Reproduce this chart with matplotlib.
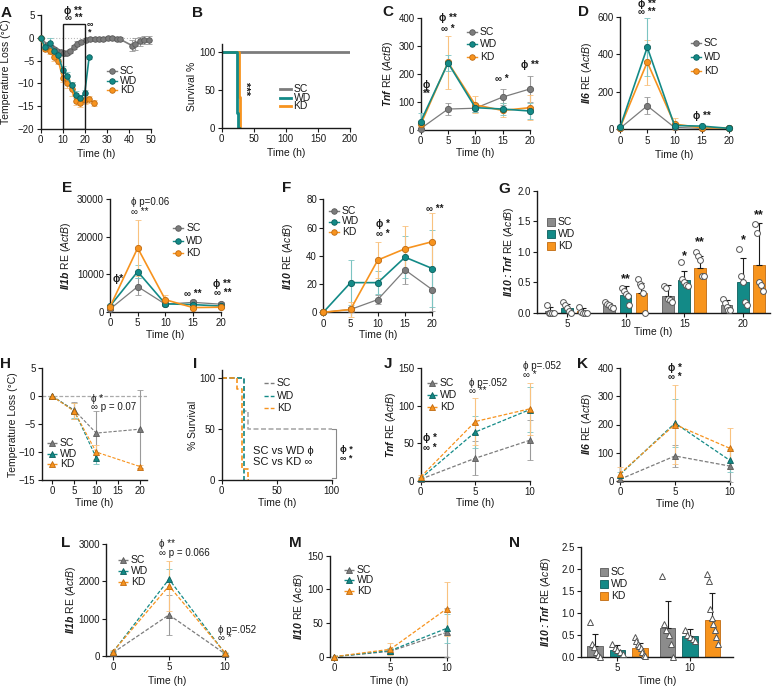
import numpy as np
import matplotlib.pyplot as plt
from matplotlib.lines import Line2D
from matplotlib.patches import Rectangle

plt.rcParams['font.family'] = ['Liberation Sans', 'DejaVu Sans']
plt.rcParams['mathtext.fontset'] = 'custom'
plt.rcParams['mathtext.rm'] = 'Liberation Sans'
plt.rcParams['mathtext.it'] = 'Liberation Sans:italic'
plt.rcParams['mathtext.bf'] = 'Liberation Sans:bold'
plt.rcParams['mathtext.bfit'] = 'Liberation Sans:bold:italic'

# ------------------------------
# 1. Data
# ------------------------------
groups = ['SC', 'WD', 'KD']

# A - temperature loss, first cohort
a_sc_t = [0, 3, 4.5, 6, 7.5, 9, 10.5, 12, 13.5, 15, 16.5, 18.5, 20.5, 22.5, 24.5, 26.5,
          28.5, 30.5, 32.5, 34.5, 36, 41.5, 43, 45, 47, 49]
a_sc = [0, -1.5, -2.0, -2.5, -3.0, -3.2, -3.4, -3.3, -2.9, -2.0, -1.3, -0.9, -0.4, -0.3,
        -0.3, -0.3, -0.2, -0.1, -0.1, -0.3, -0.3, -1.7, -1.3, -0.8, -0.5, -0.5]
a_sc_err = [0, 0.4, 0.5, 0.5, 0.5, 0.5, 0.5, 0.5, 0.5, 0.5, 0.5, 0.5, 0.4, 0.4, 0.4, 0.4,
            0.4, 0.4, 0.4, 0.5, 0.5, 1.2, 1.3, 0.9, 0.8, 0.8]
a_wd_t = [0, 2, 4, 6, 8, 10, 12, 14, 16, 18, 20, 22]
a_wd = [0, -2.0, -1.2, -2.8, -3.8, -7.0, -8.3, -10.4, -12.5, -13.2, -12.2, -4.3]
a_wd_err = [0, 0.5, 1.2, 0.8, 0.8, 0.8, 0.9, 0.8, 0.8, 0.7, 0.8, 0.4]
a_kd_t = [0, 2, 4, 6, 8, 10, 12, 14, 16, 18, 20, 22, 24]
a_kd = [0, -2.5, -2.9, -4.2, -5.0, -8.8, -10.0, -11.3, -13.8, -14.2, -13.7, -13.5, -14.3]
a_kd_err = [0, 0.5, 0.7, 0.8, 0.8, 1.0, 1.0, 1.5, 1.0, 1.0, 0.8, 0.7, 0.6]

# B - survival
b_sc_t, b_sc = [0, 200], [100, 100]
b_wd_t, b_wd = [0, 23.4, 26, 26.5], [100, 20, 0, 0]
b_kd_t, b_kd = [0, 26.5, 28.6, 29], [100, 40, 0, 0]

# C-F - cytokines, first cohort
t20 = [0, 5, 10, 15, 20]
c_sc, c_sc_err = [5, 75, 78, 118, 147], [3, 20, 12, 28, 48]
c_wd, c_wd_err = [30, 240, 80, 75, 68], [30, 28, 15, 20, 28]
c_kd, c_kd_err = [20, 242, 90, 70, 80], [10, 95, 30, 25, 45]

d_sc, d_sc_err = [5, 125, 10, 5, 5], [3, 45, 5, 3, 3]
d_wd, d_wd_err = [10, 437, 20, 17, 5], [5, 155, 10, 6, 3]
d_kd, d_kd_err = [8, 358, 28, 8, 8], [5, 120, 30, 5, 4]

e_sc, e_sc_err = [700, 6700, 2000, 2500, 2000], [300, 2200, 500, 600, 500]
e_wd, e_wd_err = [1500, 10700, 2100, 1900, 1500], [400, 1700, 500, 500, 400]
e_kd, e_kd_err = [1300, 17000, 3200, 1100, 1200], [400, 7500, 1200, 400, 300]

f_sc, f_sc_err = [0, 2, 9, 30, 16], [0, 2, 3, 10, 15]
f_wd, f_wd_err = [0, 21, 21, 39, 31], [0, 16, 8, 15, 27]
f_kd, f_kd_err = [0, 2, 37, 45, 50], [0, 5, 13, 16, 20]

# G - Il10:Tnf ratio
g_times = ['5', '10', '15', '20']
g_sc, g_sc_err = [0.03, 0.12, 0.28, 0.13], [0.06, 0.04, 0.17, 0.08]
g_wd, g_wd_err = [0.08, 0.29, 0.54, 0.51], [0.06, 0.14, 0.15, 0.38]
g_kd, g_kd_err = [0.02, 0.33, 0.74, 0.79], [0.05, 0.15, 0.19, 0.68]
g_sc_pts = [[0.13, 0.0, 0.0, 0.0, 0.0], [0.17, 0.14, 0.12, 0.10, 0.08],
            [0.43, 0.41, 0.22, 0.21, 0.17], [0.23, 0.16, 0.10, 0.05, 0.04]]
g_wd_pts = [[0.18, 0.12, 0.08, 0.02, 0.0], [0.40, 0.36, 0.30, 0.27, 0.12],
            [0.83, 0.56, 0.51, 0.45, 0.44], [1.05, 0.60, 0.50, 0.17, 0.13]]
g_kd_pts = [[0.10, 0.01, 0.0, 0.0, 0.0], [0.55, 0.47, 0.44, 0.33, 0.0],
            [1.00, 0.93, 0.87, 0.60, 0.60], [1.45, 1.30, 0.50, 0.45, 0.35]]

# H - temperature loss, second cohort
h_t = [0, 5, 10, 20]
h_sc, h_sc_err = [0, -2.5, -6.6, -5.9], [0.1, 1.5, 4.0, 7.0]
h_wd_t, h_wd, h_wd_err = [0, 5, 10], [0, -2.6, -11.0], [0.1, 1.3, 1.1]
h_kd, h_kd_err = [0, -2.7, -10.0, -12.6], [0.1, 1.4, 1.3, 0.2]

# I - survival, second cohort
i_sc_t, i_sc = [0, 20.5, 24, 100], [100, 67, 50, 50]
i_wd_t, i_wd = [0, 20, 20.5], [100, 0, 0]
i_kd_t, i_kd = [0, 14, 18.5, 24, 24.5], [100, 89, 11, 0, 0]

# J-M - cytokines, second cohort
t10 = [0, 5, 10]
j_sc, j_sc_err = [2, 30, 54], [1, 23, 27]
j_wd, j_wd_err = [3, 65, 95], [2, 22, 30]
j_kd, j_kd_err = [5, 79, 96], [2, 31, 35]

k_sc, k_sc_err = [5, 88, 52], [3, 38, 55]
k_wd, k_wd_err = [22, 205, 72], [10, 85, 40]
k_kd, k_kd_err = [25, 200, 115], [22, 140, 72]

l_sc, l_sc_err = [80, 1100, 50], [30, 530, 20]
l_wd, l_wd_err = [100, 2060, 60], [30, 270, 20]
l_kd, l_kd_err = [110, 1880, 80], [40, 680, 30]

m_sc, m_sc_err = [0, 8, 36], [0, 3, 36]
m_wd, m_wd_err = [0, 9, 42], [0, 4, 22]
m_kd, m_kd_err = [0, 11, 71], [0, 9, 40]

# N - Il10:Tnf ratio, second cohort
n_times = ['5', '10']
n_sc, n_sc_err = [0.25, 0.65], [0.27, 0.63]
n_wd, n_wd_err = [0.16, 0.47], [0.11, 0.16]
n_kd, n_kd_err = [0.19, 0.84], [0.13, 0.61]
n_sc_pts = [[0.80, 0.30, 0.22, 0.10, 0.05, 0.0], [1.85, 0.75, 0.60, 0.50, 0.30, 0.0]]
n_wd_pts = [[0.30, 0.20, 0.15, 0.10, 0.07], [0.62, 0.50, 0.45, 0.40, 0.35]]
n_kd_pts = [[0.45, 0.35, 0.30, 0.25, 0.20, 0.10, 0.05, 0.02],
            [1.90, 1.72, 1.10, 0.88, 0.75, 0.60, 0.45, 0.30]]

# ------------------------------
# 2. Style
# ------------------------------
col = {'SC': '#7c7c7c', 'WD': '#138a87', 'KD': '#f7931e'}
ecol = {'SC': '#9a9a9a', 'WD': '#7cc4c2', 'KD': '#f9c27f'}
edge = {'SC': '#5a5a5a', 'WD': '#0b5e5c', 'KD': '#c06a10'}
bar_col = {'SC': '#8c8c8c', 'WD': '#138a87', 'KD': '#f7941d'}
INK = '#1a1a1a'
dash = (0, (3, 1.5))

W, H = 772, 686
fig = plt.figure(figsize=(W / 100, H / 100), dpi=100)


def ax_px(l, t, r, b, xlim, ylim):
    ax = fig.add_axes([l / W, 1 - b / H, (r - l) / W, (b - t) / H])
    ax.set_xlim(xlim)
    ax.set_ylim(ylim)
    ax.patch.set_alpha(0)
    for s in ['top', 'right']:
        ax.spines[s].set_visible(False)
    for s in ['left', 'bottom']:
        ax.spines[s].set_linewidth(1.0)
        ax.spines[s].set_color(INK)
    ax.tick_params(labelsize=7, length=3, width=0.8, pad=1.5, colors=INK)
    return ax


def series(ax, t, y, e, g, marker='o', ls='-', lw=1.2, ms=4.5, z=3):
    ax.errorbar(t, y, yerr=e, color=col[g], ecolor=ecol[g], elinewidth=0.8,
                capsize=2, capthick=0.8, marker=marker, ms=ms, mfc=col[g],
                mec=edge[g], mew=0.6, lw=lw, ls=ls, zorder=z, clip_on=False)


def note(ax, x, y, s, fs=7, ha='center', bold=True, ls=0.95, **kw):
    ax.text(x, y, s, fontsize=fs, ha=ha, va='center', clip_on=False,
            multialignment=ha, linespacing=ls,
            fontweight='bold' if bold else 'normal', color=INK, **kw)


def ylab(x, t, b, s, fs=7.5):
    fig.text(x / W, 1 - (t + b) / 2 / H, s, rotation=90, ha='center',
             va='center', fontsize=fs, color=INK)


def xlab(l, r, y, s='Time (h)', fs=7.5):
    fig.text((l + r) / 2 / W, 1 - y / H, s, ha='center', va='center',
             fontsize=fs, color=INK)


def letter(x, y, s):
    fig.text(x / W, 1 - y / H, s, ha='left', va='top', fontsize=11,
             fontweight='bold', color=INK)


def fleg(x, y, dy, kind, fs=7.5, hl=10, ls='-', marker='o'):
    # manual legend: x = handle centre (px), y = first row centre (px)
    for i, g in enumerate(groups):
        yy = 1 - (y + i * dy) / H
        if kind == 'square':
            fig.add_artist(Rectangle(((x - 4) / W, yy - 4 / H), 8 / W, 8 / H,
                                     transform=fig.transFigure, fc=bar_col[g],
                                     ec=edge[g], lw=0.6))
            tx = x + 7
        else:
            fig.add_artist(Line2D([(x - hl / 2) / W, (x + hl / 2) / W], [yy, yy],
                                  transform=fig.transFigure, color=col[g],
                                  lw=2.0 if kind == 'thick' else 1.0, ls=ls))
            if kind == 'marker':
                fig.add_artist(Line2D([x / W], [yy], transform=fig.transFigure,
                                      marker=marker, ms=4, color=col[g],
                                      mec=edge[g], mew=0.6, ls='none'))
            tx = x + hl / 2 + 3
        fig.text(tx / W, yy, g, ha='left', va='center', fontsize=fs, color=INK)


def bar_panel(ax, means, errs, pts, offs, width, marker):
    for k, g in enumerate(groups):
        xs = np.arange(len(means[k])) + offs[k]
        ax.bar(xs, means[k], width=width, color=bar_col[g], edgecolor=edge[g],
               lw=0.6, zorder=2)
        ax.errorbar(xs, means[k], yerr=[np.zeros(len(errs[k])), errs[k]],
                    fmt='none', ecolor=INK, elinewidth=0.8, capsize=2.5,
                    capthick=0.8, zorder=3)
        for j, p in enumerate(pts[k]):
            jit = np.linspace(-width * 0.32, width * 0.32, len(p))
            ax.plot(xs[j] + jit, p, ls='none', marker=marker, ms=4.2, mfc='white',
                    mec='#555555', mew=0.7, zorder=4, clip_on=False)


# ------------------------------
# 3. Panels
# ------------------------------
# A
ax = ax_px(40.7, 15, 150.7, 129, (0, 50), (-20, 5))
ax.axhline(0, color='#bbbbbb', ls=':', lw=0.8, zorder=1)
series(ax, a_sc_t, a_sc, a_sc_err, 'SC', ms=4)
series(ax, a_kd_t, a_kd, a_kd_err, 'KD', ms=4)
series(ax, a_wd_t, a_wd, a_wd_err, 'WD', ms=4)
ax.add_patch(Rectangle((10, -20), 10, 23, fill=False, ec=INK, lw=1.0, zorder=5))
ax.set_xticks([0, 10, 20, 30, 40, 50])
ax.set_yticks([5, 0, -5, -10, -15, -20])
note(ax, 14.8, 5.1, 'ϕ **\n∞ **', ls=0.7)
note(ax, 22.2, 2.1, '∞\n*', fs=6.5, ls=0.75)
ylab(6, 15, 129, 'Temperature Loss (°C)')
xlab(40.7, 150.7, 154)
fleg(112, 71, 9.7, 'marker')
letter(1, 6, 'A')

# B
ax = ax_px(221.7, 44, 350, 128, (0, 200), (0, 110))
ax.step(b_sc_t, b_sc, where='post', color=col['SC'], lw=2.0)
ax.step(b_kd_t, b_kd, where='post', color=col['KD'], lw=2.0)
ax.step(b_wd_t, b_wd, where='post', color=col['WD'], lw=2.0)
ax.set_xticks([0, 50, 100, 150, 200])
ax.set_yticks([0, 50, 100])
note(ax, 36, 52, '***', fs=8, rotation=270)
ylab(192, 44, 128, 'Survival %')
xlab(221.7, 350, 153)
fleg(285, 89, 8.6, 'thick', hl=11)
letter(192, 6, 'B')

# C
ax = ax_px(420.7, 18.3, 530, 130, (0, 20), (0, 400))
series(ax, t20, c_sc, c_sc_err, 'SC', ms=4.5, lw=0.9)
series(ax, t20, c_kd, c_kd_err, 'KD', ms=4.5)
series(ax, t20, c_wd, c_wd_err, 'WD', ms=4.5)
ax.set_xticks(t20)
ax.set_yticks([0, 100, 200, 300, 400])
note(ax, 1.1, 145, 'ϕ\n**', ls=0.9)
note(ax, 5, 382, 'ϕ **\n∞ *', ls=1.05)
note(ax, 14.8, 182, '∞ *')
note(ax, 20, 233, 'ϕ **')
ylab(388, 18.3, 130, r'$\mathbfit{Tnf}$ RE ($\mathit{ActB}$)')
xlab(420.7, 530, 153)
fleg(472, 31.7, 12.5, 'marker')
letter(382, 5, 'C')

# D
ax = ax_px(620, 16.7, 729, 129.3, (0, 20), (0, 600))
series(ax, t20, d_sc, d_sc_err, 'SC', lw=0.9)
series(ax, t20, d_kd, d_kd_err, 'KD')
series(ax, t20, d_wd, d_wd_err, 'WD')
ax.set_xticks(t20)
ax.set_yticks([0, 200, 400, 600])
note(ax, 5, 648, 'ϕ **\n∞ **', ls=0.75)
note(ax, 15, 71, 'ϕ **')
ylab(587, 16.7, 129.3, r'$\mathbfit{Il6}$ RE ($\mathit{ActB}$)')
xlab(620, 729, 155)
fleg(696, 43.3, 13.7, 'marker')
letter(578, 5, 'D')

# E
ax = ax_px(110, 199.3, 220.7, 311.7, (0, 20), (0, 30000))
series(ax, t20, e_sc, e_sc_err, 'SC', lw=0.9)
series(ax, t20, e_wd, e_wd_err, 'WD')
series(ax, t20, e_kd, e_kd_err, 'KD')
ax.set_xticks(t20)
ax.set_yticks([0, 10000, 20000, 30000])
note(ax, 3.8, 27900, 'ϕ p=0.06\n∞ **', ha='left', bold=False)
note(ax, 1.4, 8650, 'ϕ*')
note(ax, 15, 4800, '∞ **')
note(ax, 20.3, 6200, 'ϕ **\n∞ **')
ylab(66, 199.3, 311.7, r'$\mathbfit{Il1b}$ RE ($\mathit{ActB}$)')
xlab(110, 220.7, 335)
fleg(178.3, 228.3, 12.5, 'marker')
letter(62, 181, 'E')

# F
ax = ax_px(323.3, 199.3, 432.3, 312.3, (0, 20), (0, 80))
series(ax, t20, f_sc, f_sc_err, 'SC', lw=0.9)
series(ax, t20, f_wd, f_wd_err, 'WD')
series(ax, t20, f_kd, f_kd_err, 'KD')
ax.set_xticks(t20)
ax.set_yticks([0, 20, 40, 60, 80])
note(ax, 11, 59, 'ϕ *\n∞ *')
note(ax, 20.4, 73, '∞ **')
ylab(288, 199.3, 312.3, r'$\mathbfit{Il10}$ RE ($\mathit{ActB}$)')
xlab(323.3, 432.3, 335)
fleg(334, 210.7, 10.8, 'marker')
letter(282, 181, 'F')

# G
ax = ax_px(537, 190.7, 770, 312.7, (-0.51, 3.46), (0, 2.0))
bar_panel(ax, [g_sc, g_wd, g_kd], [g_sc_err, g_wd_err, g_kd_err],
          [g_sc_pts, g_wd_pts, g_kd_pts], [-0.28, 0, 0.27], 0.2, 'o')
ax.set_xticks(range(len(g_times)))
ax.set_xticklabels(g_times)
ax.set_yticks([0, 0.5, 1.0, 1.5, 2.0])
ax.set_yticklabels(['0.0', '0.5', '1.0', '1.5', '2.0'])
note(ax, 1, 0.55, '**', fs=9)
note(ax, 2, 0.93, '*', fs=9)
note(ax, 2.27, 1.16, '**', fs=9)
note(ax, 3, 1.19, '*', fs=9)
note(ax, 3.27, 1.6, '**', fs=9)
ylab(509, 190.7, 312.7, r'$\mathbfit{Il10{:}Tnf}$ RE ($\mathit{ActB}$)')
xlab(537, 770, 332)
fleg(551, 221.7, 12.2, 'square')
letter(498, 182, 'G')

# H
ax = ax_px(41.7, 368.3, 146.7, 480, (-2.42, 21.5), (-15, 5))
ax.axhline(0, color='#aaaaaa', ls=dash, lw=0.9, zorder=1)
series(ax, h_t, h_sc, h_sc_err, 'SC', marker='^', ls=dash, lw=0.8, ms=4)
series(ax, h_wd_t, h_wd, h_wd_err, 'WD', marker='^', ls=dash, lw=0.8, ms=4)
series(ax, h_t, h_kd, h_kd_err, 'KD', marker='^', ls=dash, lw=0.8, ms=4)
ax.set_xticks([0, 5, 10, 15, 20])
ax.set_yticks([5, 0, -5, -10, -15])
note(ax, 8.9, -1.15, 'ϕ *\n∞ p = 0.07', ha='left', bold=False, ls=0.75)
ylab(13, 368.3, 480, 'Temperature Loss (°C)')
xlab(41.7, 146.7, 503)
fleg(52, 443.3, 10.3, 'marker', ls=dash, marker='^')
letter(0, 357, 'H')

# I
ax = ax_px(221.7, 370, 331.7, 480, (0, 100), (0, 107.5))
ax.step(i_sc_t, i_sc, where='post', color='#aaaaaa', lw=1.2, ls=dash, clip_on=False)
ax.step(i_wd_t, i_wd, where='post', color=col['WD'], lw=1.2, ls=dash, clip_on=False)
ax.step(i_kd_t, i_kd, where='post', color=col['KD'], lw=1.2, ls=dash, clip_on=False)
ax.plot([100, 104, 104, 100], [50, 50, 2, 2], color='#888888', lw=0.8, clip_on=False)
ax.set_xticks([0, 50, 100])
ax.set_yticks([0, 50, 100])
note(ax, 28.5, 23, 'SC vs WD ϕ\nSC vs KD ∞', ha='left', bold=False, fs=8, ls=1.1)
note(ax, 113, 25.5, 'ϕ *\n∞ *', fs=6.5, ls=0.9)
ylab(193, 370, 480, '% Survival')
xlab(221.7, 331.7, 503)
fleg(269, 383.3, 12.5, 'line', ls=dash)
letter(193, 357, 'I')

# J
ax = ax_px(420.7, 368.3, 530, 480.7, (0, 10), (0, 150))
for g, y, e in zip(groups, [j_sc, j_wd, j_kd], [j_sc_err, j_wd_err, j_kd_err]):
    series(ax, t10, y, e, g, marker='^', ls=dash, lw=0.9, ms=4)
ax.set_xticks(t10)
ax.set_yticks([0, 50, 100, 150])
note(ax, 0.85, 50.5, 'ϕ *\n∞ *')
note(ax, 4.4, 125, 'ϕ p=.052\n∞ **', ha='left', bold=False, ls=0.85)
note(ax, 9.4, 147, 'ϕ p=.052\n∞ *', ha='left', bold=False, ls=0.85)
ylab(391, 368.3, 480.7, r'$\mathbfit{Tnf}$ RE ($\mathit{ActB}$)')
xlab(420.7, 530, 503)
fleg(432, 383.3, 11.7, 'marker', ls=dash, marker='^')
letter(384, 357, 'J')

# K
ax = ax_px(620, 368.3, 730, 480.7, (0, 10), (0, 400))
for g, y, e in zip(groups, [k_sc, k_wd, k_kd], [k_sc_err, k_wd_err, k_kd_err]):
    series(ax, t10, y, e, g, marker='^', ls=dash, lw=0.9, ms=4)
ax.set_xticks(t10)
ax.set_yticks([0, 100, 200, 300, 400])
note(ax, 5, 385, 'ϕ *\n∞ *')
ylab(587, 368.3, 480.7, r'$\mathbfit{Il6}$ RE ($\mathit{ActB}$)')
xlab(620, 730, 504)
letter(577, 357, 'K')

# L
ax = ax_px(106, 544.3, 227.5, 655.7, (-0.625, 10.22), (0, 3000))
for g, y, e in zip(groups, [l_sc, l_wd, l_kd], [l_sc_err, l_wd_err, l_kd_err]):
    series(ax, t10, y, e, g, marker='^', ls=dash, lw=0.9, ms=4)
ax.set_xticks(t10)
ax.set_yticks([0, 1000, 2000, 3000])
note(ax, 4.1, 2890, 'ϕ **\n∞ p = 0.066', ha='left', bold=False, ls=0.8)
note(ax, 9.33, 580, 'ϕ p=.052\n∞ *', ha='left', bold=False, ls=0.8)
ylab(71, 544.3, 655.7, r'$\mathbfit{Il1b}$ RE ($\mathit{ActB}$)')
xlab(106, 227.5, 681)
fleg(123, 560, 10.8, 'marker', ls=dash, marker='^')
letter(61, 536, 'L')

# M
ax = ax_px(330, 555.7, 448, 656.7, (-0.36, 10.13), (0, 150))
for g, y, e in zip(groups, [m_sc, m_wd, m_kd], [m_sc_err, m_wd_err, m_kd_err]):
    series(ax, t10, y, e, g, marker='^', ls=dash, lw=0.9, ms=4)
ax.set_xticks(t10)
ax.set_yticks([0, 50, 100, 150])
ylab(299, 555.7, 656.7, r'$\mathbfit{Il10}$ RE ($\mathit{ActB}$)')
xlab(330, 448, 681)
fleg(349, 570, 10.3, 'marker', ls=dash, marker='^')
letter(289, 536, 'M')

# N
ax = ax_px(581, 547.3, 732.5, 656.7, (-0.503, 1.586), (0, 2.5))
bar_panel(ax, [n_sc, n_wd, n_kd], [n_sc_err, n_wd_err, n_kd_err],
          [n_sc_pts, n_wd_pts, n_kd_pts], [-0.31, 0, 0.31], 0.22, '^')
ax.set_xticks(range(len(n_times)))
ax.set_xticklabels(n_times)
ax.set_yticks([0, 0.5, 1.0, 1.5, 2.0, 2.5])
ax.set_yticklabels(['0.0', '0.5', '1.0', '1.5', '2.0', '2.5'])
ylab(546, 547.3, 656.7, r'$\mathbfit{Il10{:}Tnf}$ RE ($\mathit{ActB}$)')
xlab(581, 732.5, 681)
fleg(604, 571.7, 12.2, 'square')
letter(509, 536, 'N')

fig.savefig('out.png', dpi=100)
